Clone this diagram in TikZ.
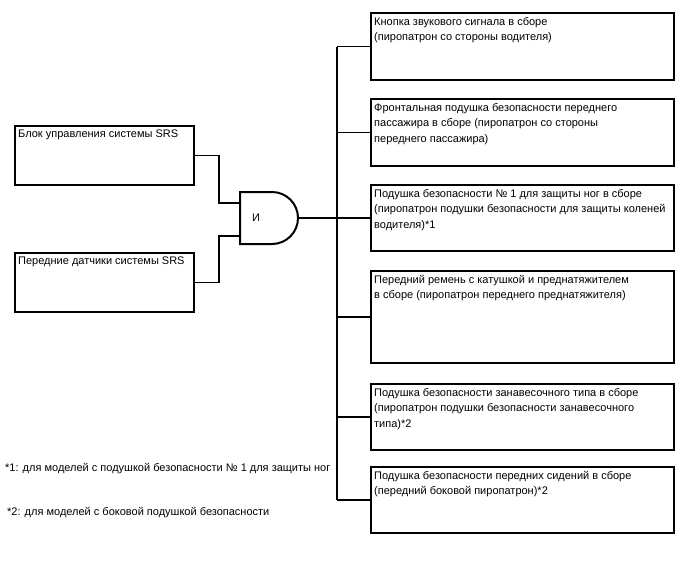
\documentclass[tikz,border=0pt]{standalone}
\usepackage{fontspec}
\setmainfont{Liberation Sans}
\usetikzlibrary{calc}

\begin{document}
\begin{tikzpicture}[x=1pt,y=1pt,font=\fontsize{11}{15.5}\selectfont,
  box/.style={draw,line width=2pt,minimum width=303pt,inner sep=0pt},
  lbox/.style={draw,line width=2pt,minimum width=179pt,minimum height=59pt,inner sep=0pt},
  txt/.style={anchor=north west,align=left,inner xsep=4pt,inner ysep=5pt},
  wire/.style={line width=1.5pt}]
  \useasboundingbox (0,0) rectangle (688,-560);
  % inputs
  \node[lbox,label={[txt]north west:Блок управления системы SRS}] (ecu) at (104.5,-155.5) {};
  \node[lbox,label={[txt]north west:Передние датчики системы SRS}] (sens) at (104.5,-282.5) {};
  % AND gate
  \draw[line width=2pt] (240,-192) -- (272,-192) arc (90:-90:26) -- (240,-244) -- cycle;
  \coordinate (in1) at (240,-203);
  \coordinate (in2) at (240,-236);
  \coordinate (out) at (298,-218);
  \node (and) at (256,-218) {И};
  % outputs
  \node[box,minimum height=67pt,label={[txt]north west:Кнопка звукового сигнала в сборе\\(пиропатрон со стороны водителя)}] (b1) at (522.5,-46.5) {};
  \node[box,minimum height=67pt,label={[txt]north west:Фронтальная подушка безопасности переднего\\пассажира в сборе (пиропатрон со стороны\\переднего пассажира)}] (b2) at (522.5,-132.5) {};
  \node[box,minimum height=66pt,label={[txt]north west:Подушка безопасности № 1 для защиты ног в сборе\\(пиропатрон подушки безопасности для защиты коленей\\водителя)*1}] (b3) at (522.5,-218) {};
  \node[box,minimum height=92pt,label={[txt]north west:Передний ремень с катушкой и преднатяжителем\\в сборе (пиропатрон переднего преднатяжителя)}] (b4) at (522.5,-317) {};
  \node[box,minimum height=66pt,label={[txt]north west:Подушка безопасности занавесочного типа в сборе\\(пиропатрон подушки безопасности занавесочного\\типа)*2}] (b5) at (522.5,-417) {};
  \node[box,minimum height=66pt,label={[txt]north west:Подушка безопасности передних сидений в сборе\\(передний боковой пиропатрон)*2}] (b6) at (522.5,-500) {};
  % wiring
  \draw[wire] (ecu.east) -- ++(24,0) |- (in1);
  \draw[wire] (sens.east) -- ++(24,0) |- (in2);
  \draw[wire] (out) -- (337,-218);
  \draw[wire] (337,0 |- b1.west) -- (337,0 |- b6.west);
  \foreach \n in {b1,b2,b3,b4,b5,b6} \draw[wire] (337,0 |- \n.west) -- (\n.west);
  % notes
  \node[anchor=west,inner sep=0pt] (n1) at (5,-469) {*1: для моделей с подушкой безопасности № 1 для защиты ног};
  \node[anchor=west,inner sep=0pt] (n2) at (7,-513) {*2: для моделей с боковой подушкой безопасности};
\end{tikzpicture}
\end{document}
